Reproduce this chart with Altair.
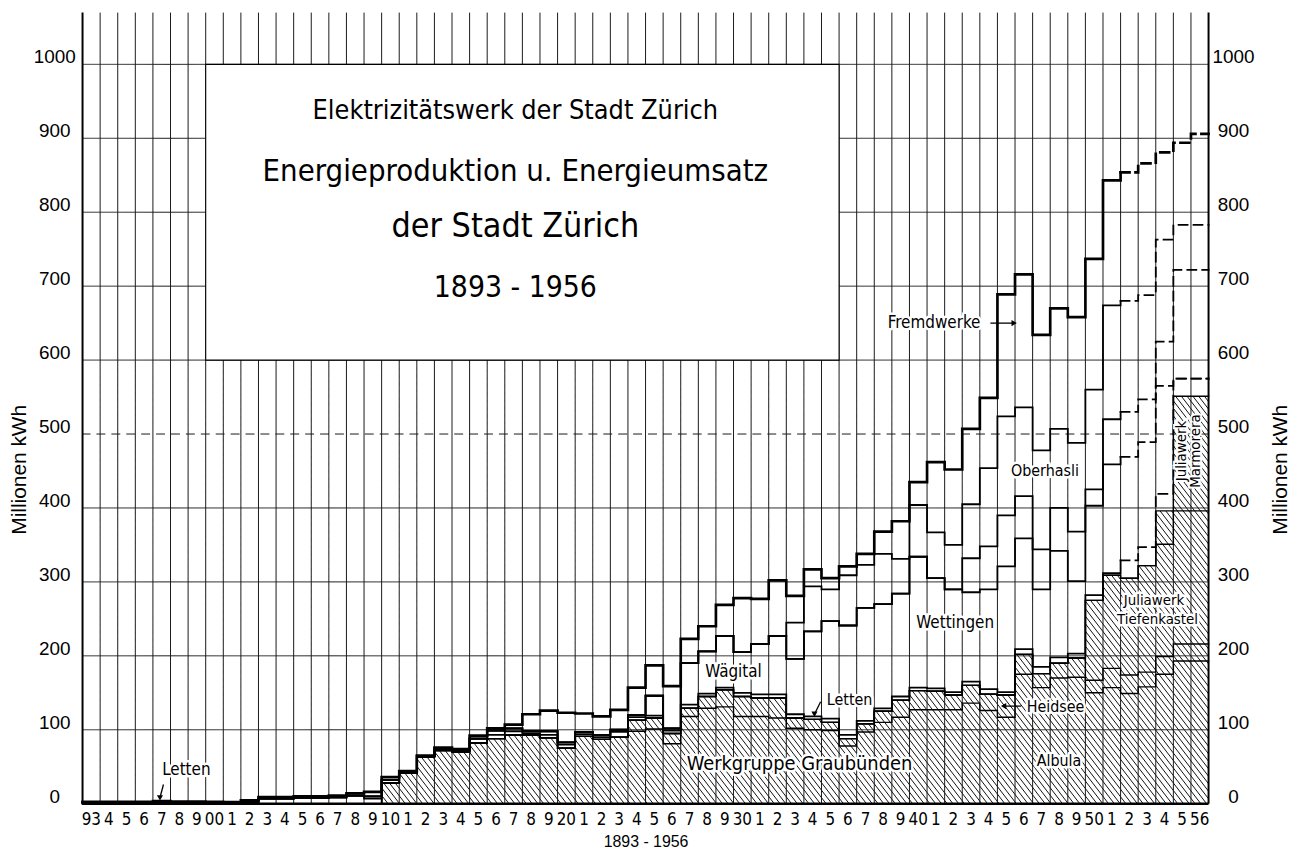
import altair as alt
import numpy as np
import pandas as pd

# ---------------------------------------------------------------- data
years = list(range(1893, 1957))

x_tick_labels = ["93", "4", "5", "6", "7", "8", "9",
                 "00", "1", "2", "3", "4", "5", "6", "7", "8", "9",
                 "10", "1", "2", "3", "4", "5", "6", "7", "8", "9",
                 "20", "1", "2", "3", "4", "5", "6", "7", "8", "9",
                 "30", "1", "2", "3", "4", "5", "6", "7", "8", "9",
                 "40", "1", "2", "3", "4", "5", "6", "7", "8", "9",
                 "50", "1", "2", "3", "4", "5", "56"]
y_ticks = [0, 100, 200, 300, 400, 500, 600, 700, 800, 900, 1000]

# cumulative upper edge of each stacked band, Mio kWh (1893 ... 1956)
zero17 = [0] * 17
albula = zero17 + [
    28, 41, 63, 72, 70, 82, 88, 93, 93, 89, 75, 91, 87, 90, 98, 101, 81, 118, 129, 131, 118, 118, 116,
    102, 100, 99, 78, 97, 110, 117, 127, 127, 127, 136, 126, 117, 175, 157, 170, 171,
    150, 157, 149, 158, 175, 193, 193]
heidsee = zero17 + [
    28, 41, 63, 72, 70, 82, 88, 93, 93, 89, 75, 91, 87, 90, 113, 116, 95, 129, 145, 154, 145, 143, 143,
    116, 114, 110, 88, 108, 125, 140, 153, 152, 147, 160, 148, 147, 202, 176, 190, 197,
    167, 183, 174, 178, 199, 216, 216]
tiefenkastel = heidsee[:57] + [275, 309, 305, 322, 351, 396, 396]
marmorera = heidsee[:57] + [275, 309, 305, 322, 396, 551, 551]
letten = [1.5, 1.5, 1.5, 1.5, 2, 2, 2, 1.5, 1.5, 2.5, 7, 7, 8, 8, 8.5, 11, 7] + [
    32, 43, 64, 74, 72, 88, 93, 98, 95, 93, 80, 94, 90, 97, 117, 119, 99, 134, 149, 157, 150, 148, 148,
    121, 118, 115, 93, 112, 129, 145, 157, 156, 151, 165, 155, 151, 209, 185, 198, 203,
    282, 312, 329, 347, 419, 575, 575]
waegital = [1.5, 1.5, 1.5, 1.5, 2, 2, 2, 1.5, 1.5, 2.5, 7, 7, 8, 8, 8.5, 11, 10] + [
    32, 43, 64, 74, 72, 88, 99, 102, 98, 98, 83, 97, 93, 100, 120, 146, 102, 190, 206, 227, 205, 216, 227,
    196, 233, 247, 241, 265, 270, 284, 334, 305, 290, 286, 290, 321, 359, 290, 342, 301,
    403, 459, 469, 489, 565, 575, 575]
wettingen = waegital[:40] + [
    196, 233, 247, 241, 265, 270, 284, 334, 305, 290, 332, 348, 390, 416, 344, 400, 368,
    425, 520, 530, 547, 625, 722, 722]
oberhasli = waegital[:40] + [
    245, 294, 290, 309, 323, 338, 331, 404, 367, 350, 405, 454, 524, 536, 478, 507, 488,
    560, 674, 680, 688, 763, 783, 783]
total = [2.5, 2.5, 2.5, 2.5, 3.5, 3, 3, 2.5, 2, 4.5, 9, 9, 10, 10, 11, 14, 16] + [
    36, 44, 65, 76, 74, 92, 102, 107, 121, 126, 123, 122, 118, 127, 157, 187, 159, 223, 240, 269, 278, 277, 302,
    281, 317, 305, 321, 338, 368, 382, 435, 462, 452, 507, 549, 689, 716, 634, 670, 658,
    737, 843, 854, 866, 881, 894, 906]

bands = {
    "albula": albula, "heidsee": heidsee, "tiefenkastel": tiefenkastel,
    "marmorera": marmorera, "letten": letten, "waegital": waegital,
    "wettingen": wettingen, "oberhasli": oberhasli, "total": total,
}
hatched_bands = ["albula", "heidsee", "tiefenkastel", "marmorera"]
estimate_from = 1952          # dashed (estimated) from this year on

title_lines = ["Elektrizitätswerk der Stadt Zürich",
               "Energieproduktion u. Energieumsatz",
               "der Stadt Zürich",
               "1893 - 1956"]
title_v = [937, 854, 780, 698]
title_size = [27, 31, 34, 30]

ann_text = ["Letten", "Wägital", "Letten", "Werkgruppe Graubünden", "Albula",
            "Heidsee", "Wettingen", "Oberhasli", "Fremdwerke", "Juliawerk", "Tiefenkastel"]
ann_x = [1898.9, 1930.0, 1936.6, 1933.75, 1948.5, 1948.3, 1942.6, 1947.7, 1941.4, 1953.9, 1954.1]
ann_v = [45, 178, 140, 54, 58, 131, 244, 450, 650, 275, 250]
ann_size = [17, 17, 16, 20, 16, 16, 17, 16, 17, 15, 15]

rot_text = ["Juliawerk", "Marmorera"]
rot_x = [1955.45, 1956.25]
rot_v = [477, 477]

arrow_x0 = [1897.6, 1934.95, 1946.35, 1944.6]
arrow_v0 = [26, 138, 132, 650]
arrow_x1 = [1897.4, 1934.6, 1945.35, 1945.95]
arrow_v1 = [8, 121, 132, 650]
arrow_shape = ["triangle-down", "triangle-down", "triangle-left", "triangle-right"]

# ---------------------------------------------------------------- scales
X0, X1 = 1893, 1957
YMAX = 1070
W, H = 1133, 796
XS = alt.Scale(domain=[X0, X1], nice=False, zero=False)
YS = alt.Scale(domain=[0, YMAX], nice=False, zero=False)
NARROW = "Liberation Sans Narrow, Arial Narrow, DejaVu Sans Condensed, sans-serif"
SANS = "Liberation Sans, Arial, sans-serif"


def xq(f):
    return alt.X(f, type="quantitative", scale=XS, axis=None)


def yq(f):
    return alt.Y(f, type="quantitative", scale=YS, axis=None)


# ---------------------------------------------------------------- hatch
px_year = W / (X1 - X0)
px_unit = H / YMAX
hatch_top = 600
run = hatch_top * px_unit / 1.3 / px_year
x0s = np.arange(X0 - run, X1, 5.8 / px_year)
hatch_df = pd.DataFrame({"a": x0s, "b": x0s + run, "t": hatch_top, "z": 0})
hatch = alt.Chart(hatch_df).mark_rule(clip=True, color="#111", strokeWidth=1.0).encode(
    x=xq("a"), x2=alt.X2("b"), y=yq("t"), y2=alt.Y2("z"))

cover_df = pd.DataFrame({"x": years, "x1": [y + 1 for y in years],
                         "lo": marmorera, "hi": [YMAX] * len(years)})
cover = alt.Chart(cover_df).mark_rect(color="white", strokeWidth=0).encode(
    x=xq("x"), x2=alt.X2("x1"), y=yq("lo"), y2=alt.Y2("hi"))

# ---------------------------------------------------------------- grid
vgrid = alt.Chart(pd.DataFrame({"x": list(range(X0 + 1, X1))})).mark_rule(
    color="#1a1a1a", strokeWidth=1).encode(x=xq("x"))
hg_df = pd.DataFrame({"v": y_ticks[1:]})
hg_df["d"] = ["dash" if v == 500 else "solid" for v in hg_df["v"]]
hgrid = alt.Chart(hg_df).mark_rule(color="#1a1a1a", strokeWidth=1).encode(
    y=yq("v"),
    strokeDash=alt.StrokeDash("d:N", scale=alt.Scale(domain=["solid", "dash"],
                                                    range=[[1, 0], [9, 6]]), legend=None))

# ---------------------------------------------------------------- band lines
rows = []
for name, vals in bands.items():
    w = 2.7 if name == "total" else (1.4 if name in hatched_bands else 1.8)
    xs = years + [X1]
    vs = vals + [vals[-1]]
    for x, v in zip(xs, vs):
        if name in hatched_bands:
            rows.append(dict(s=name, x=x, v=v, w=w, d="solid"))
        else:
            if x <= estimate_from:
                rows.append(dict(s=name + "_s", x=x, v=v, w=w, d="solid"))
            if x >= estimate_from:
                rows.append(dict(s=name + "_d", x=x, v=v, w=w, d="dash"))
lines_df = pd.DataFrame(rows)
band_lines = alt.Chart(lines_df).mark_line(interpolate="step-after", color="black",
                                            strokeCap="square").encode(
    x=xq("x"), y=yq("v"), detail="s:N",
    strokeWidth=alt.StrokeWidth("w:Q", scale=None),
    strokeDash=alt.StrokeDash("d:N", scale=alt.Scale(domain=["solid", "dash"],
                                                    range=[[1, 0], [5, 3]]), legend=None))

# ---------------------------------------------------------------- frame
frame_v = alt.Chart(pd.DataFrame({"x": [X0, X1]})).mark_rule(color="black", strokeWidth=2).encode(
    x=xq("x"))
base = alt.Chart(pd.DataFrame({"v": [0]})).mark_rule(color="black", strokeWidth=2.6).encode(
    y=yq("v"))

box_df = pd.DataFrame({"x": [1900], "x1": [1936], "v": [600], "v1": [1000]})
box = alt.Chart(box_df).mark_rect(fill="white", stroke="black", strokeWidth=1.1).encode(
    x=xq("x"), x2=alt.X2("x1"), y=yq("v"), y2=alt.Y2("v1"))

tdf = pd.DataFrame({"t": title_lines, "v": title_v, "s": title_size, "x": [1917.6] * 4})
title_txt = alt.Chart(tdf).mark_text(font=NARROW, color="black", baseline="middle").encode(
    x=xq("x"), y=yq("v"), text="t:N", size=alt.Size("s:Q", scale=None))

# ---------------------------------------------------------------- annotations
adf = pd.DataFrame({"t": ann_text, "x": ann_x, "v": ann_v, "s": ann_size})
halo = alt.Chart(adf).mark_text(font=NARROW, color="white", stroke="white", strokeWidth=5,
                                strokeJoin="round", baseline="middle").encode(
    x=xq("x"), y=yq("v"), text="t:N", size=alt.Size("s:Q", scale=None))
ann = alt.Chart(adf).mark_text(font=NARROW, color="black", baseline="middle").encode(
    x=xq("x"), y=yq("v"), text="t:N", size=alt.Size("s:Q", scale=None))
rdf = pd.DataFrame({"t": rot_text, "x": rot_x, "v": rot_v})
rhalo = alt.Chart(rdf).mark_text(font=NARROW, fontSize=15, angle=270, color="white",
                                 stroke="white", strokeWidth=4, baseline="middle").encode(
    x=xq("x"), y=yq("v"), text="t:N")
rann = alt.Chart(rdf).mark_text(font=NARROW, fontSize=15, angle=270, color="black",
                                baseline="middle").encode(
    x=xq("x"), y=yq("v"), text="t:N")
ar_df = pd.DataFrame({"a": arrow_x0, "b": arrow_x1, "v0": arrow_v0, "v1": arrow_v1,
                      "shape": arrow_shape})
arrows = alt.Chart(ar_df).mark_rule(color="black", strokeWidth=1.3).encode(
    x=xq("a"), x2=alt.X2("b"), y=yq("v0"), y2=alt.Y2("v1"))
heads = alt.Chart(ar_df).mark_point(filled=True, color="black", size=38, opacity=1).encode(
    x=xq("b"), y=yq("v1"), shape=alt.Shape("shape:N", scale=None))

# ---------------------------------------------------------------- axis labels
ydf = pd.DataFrame({"v": y_ticks, "t": [str(v) for v in y_ticks]})
ylab_l = alt.Chart(ydf).mark_text(font=SANS, fontSize=19, align="center",
                                  baseline="alphabetic", dy=-1).encode(
    x=alt.value(-28), y=yq("v"), text="t:N")
ylab_r = alt.Chart(ydf).mark_text(font=SANS, fontSize=19, align="center",
                                  baseline="alphabetic", dy=-1).encode(
    x=alt.value(W + 25), y=yq("v"), text="t:N")
xdf = pd.DataFrame({"x": [y + 0.5 for y in years], "t": x_tick_labels})
xlab = alt.Chart(xdf).mark_text(font=NARROW, fontSize=17, baseline="middle").encode(
    x=xq("x"), y=alt.value(H + 16), text="t:N")
axis_titles = alt.Chart(pd.DataFrame({"t": ["Millionen kWh", "Millionen kWh", "1893 - 1956"],
                                      "px": [-63, W + 73, 567], "py": [460, 460, H + 39],
                                      "ang": [270, 270, 0], "fs": [21, 21, 16]})).mark_text(
    font=SANS, baseline="middle").encode(
    x=alt.X("px:Q", scale=None, axis=None), y=alt.Y("py:Q", scale=None, axis=None),
    text="t:N", angle=alt.Angle("ang:Q", scale=None), size=alt.Size("fs:Q", scale=None))

chart = alt.layer(
    hatch, cover, vgrid, hgrid, band_lines, frame_v, base, box, title_txt,
    halo, ann, rhalo, rann, arrows, heads, ylab_l, ylab_r, xlab, axis_titles
).properties(
    width=W, height=H,
    autosize=alt.AutoSizeParams(type="none"),
    padding={"left": 75, "top": 2, "right": 90, "bottom": 50},
    background="white",
).configure_view(stroke=None)

chart.save("out.html", embed_options={"renderer": "svg", "actions": False})
